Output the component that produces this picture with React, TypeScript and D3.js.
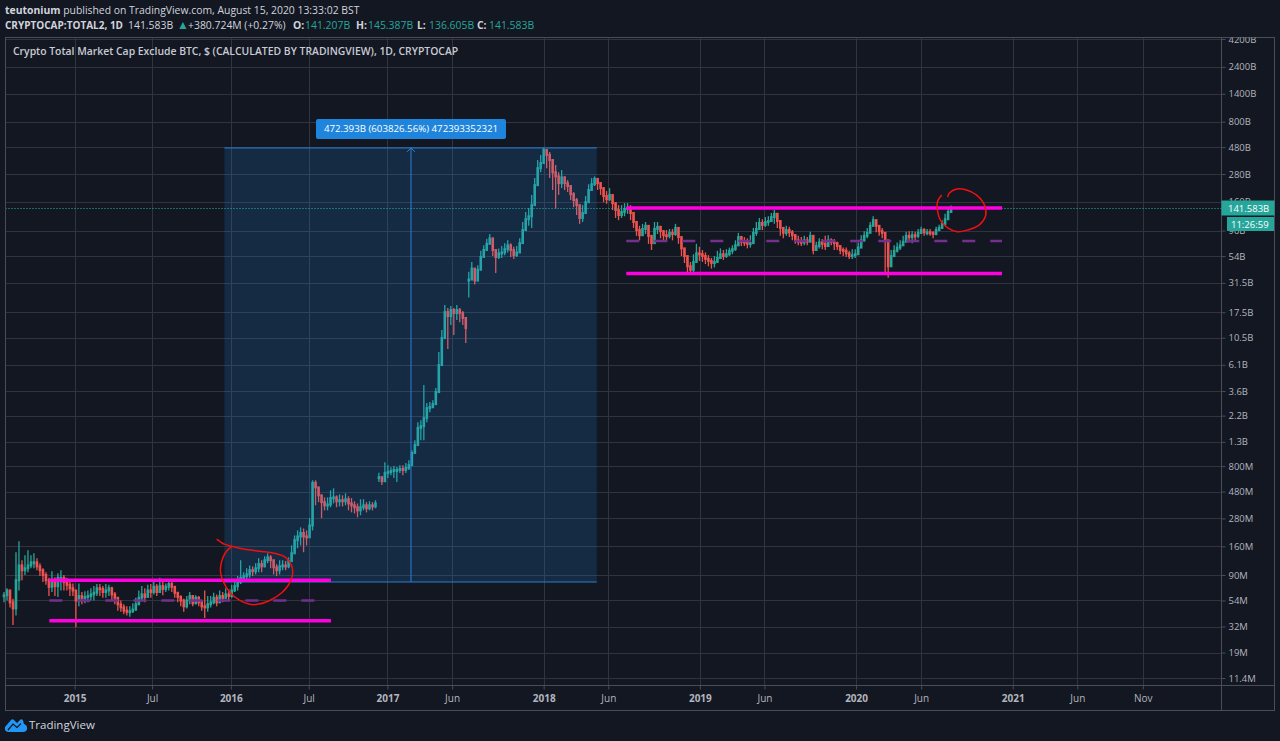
import React, { useRef, useEffect } from 'react';
import * as d3 from 'd3';

// axis labels, prices are kept in $M so one log scale covers everything
const yTickValues = [4200000, 2400000, 1400000, 800000, 480000, 280000, 160000, 90000, 54000, 31500, 17500, 10500, 6100, 3600, 2200, 1300, 800, 480, 280, 160, 90, 54, 32, 19, 11.4];
const yTickLabels = ['4200B', '2400B', '1400B', '800B', '480B', '280B', '160B', '90B', '54B', '31.5B', '17.5B', '10.5B', '6.1B', '3.6B', '2.2B', '1.3B', '800M', '480M', '280M', '160M', '90M', '54M', '32M', '19M', '11.4M'];
const xTickDates = ['2015-01-01', '2015-07-01', '2016-01-01', '2016-07-01', '2017-01-01', '2017-06-01', '2018-01-01', '2018-06-01', '2019-01-01', '2019-06-01', '2020-01-01', '2020-06-01', '2021-01-01', '2021-06-01', '2021-11-01'];
const xTickLabels = ['2015', 'Jul', '2016', 'Jul', '2017', 'Jun', '2018', 'Jun', '2019', 'Jun', '2020', 'Jun', '2021', 'Jun', 'Nov'];

// weekly bars, in $M
const seg1Start = '2014-07-20';
const seg1Close = [60, 66, 52, 46, 81, 109, 99, 103, 109, 116, 116, 107, 99, 90, 81, 71, 78, 72, 85, 85, 78, 74, 69, 66, 54, 59, 57, 58, 59, 61, 63, 69, 68, 64, 66, 69, 61, 57, 50, 47, 44, 43, 43.5, 45, 50, 57, 61, 58, 66, 64, 71, 64, 72, 68, 71, 75, 71, 63, 58, 54, 48, 54, 59, 51, 57, 52, 48, 47, 50, 52, 57, 52, 59, 57, 61, 59, 66, 72, 78, 85, 88, 91, 99, 97, 103, 112, 107, 121, 128, 121, 105, 99, 107, 109, 107, 119, 139, 181, 195, 209, 195, 192, 243, 571, 522, 445, 388, 364, 370, 421, 427, 395, 403, 395, 411, 378, 364, 350, 329, 350, 364, 343, 364, 356, 378];
const seg1High = [64, 69, 66, 56, 142, 177, 121, 134, 148, 134, 139, 126, 114, 103, 95, 85, 97, 86, 93, 99, 90, 85, 78, 76, 66, 76, 64, 65, 66, 69, 72, 75, 75, 72, 75, 74, 71, 64, 57, 54, 50, 48, 48, 51, 57, 66, 72, 69, 74, 75, 78, 75, 85, 78, 76, 80, 78, 71, 64, 60, 56, 59, 64, 60, 60, 59, 54, 66, 59, 59, 63, 61, 66, 64, 69, 68, 74, 81, 88, 121, 95, 103, 109, 107, 114, 126, 121, 131, 139, 134, 121, 112, 121, 121, 119, 128, 163, 199, 220, 234, 229, 220, 281, 601, 601, 512, 445, 427, 427, 492, 512, 445, 454, 445, 463, 436, 421, 395, 378, 411, 411, 388, 395, 388, 403];
const seg1Low = [52, 54, 47, 33, 40, 66, 81, 90, 95, 103, 103, 99, 88, 78, 74, 59, 64, 59, 58, 66, 66, 66, 59, 59, 31.5, 48, 50, 51, 52, 54, 54, 59, 59, 57, 57, 59, 54, 50, 44, 43, 41, 40, 39, 42, 44, 51, 54, 52, 59, 57, 61, 59, 64, 60, 64, 66, 64, 57, 52, 48, 43, 46, 50, 48, 50, 48, 44, 38, 43, 47, 50, 48, 54, 52, 56, 54, 57, 64, 66, 75, 78, 81, 85, 88, 91, 95, 95, 105, 114, 103, 91, 88, 91, 99, 99, 103, 121, 142, 154, 163, 142, 163, 199, 220, 364, 388, 281, 329, 329, 350, 378, 350, 356, 356, 364, 329, 316, 309, 286, 298, 329, 316, 329, 329, 343];

const seg2Start = '2016-12-12';
const seg2Close = [640, 590, 695, 710, 725, 740, 740, 755, 740, 770, 815, 1040, 1220, 1720, 1780, 2095, 2560, 2610, 2770, 3530, 6070, 10420, 17560, 16200, 18280, 17220, 18280, 17220, 15600, 12740];
const seg2High = [700, 650, 865, 815, 780, 800, 785, 815, 815, 850, 900, 1100, 1340, 1930, 2010, 4060, 2830, 2890, 3000, 3820, 7870, 12240, 20200, 19030, 19840, 19030, 20200, 19030, 17920, 15600];
const seg2Low = [580, 546, 605, 630, 665, 630, 580, 695, 665, 695, 740, 900, 1040, 1220, 1340, 1340, 1930, 2360, 2550, 2830, 3680, 6700, 10420, 8360, 13530, 11060, 14960, 14300, 13530, 9430];

// this stretch is in $B
const seg3Start = '2017-07-10';
const seg3Close = [33.7, 42, 33, 41, 53, 61, 69, 77, 61, 53, 57, 58, 62, 67, 61, 55, 58, 70, 91, 113, 120, 150, 224, 315, 349, 453, 411, 371, 290, 267, 233, 262, 233, 220, 187, 166, 150, 116, 128, 159, 203, 228, 254, 233, 211, 180, 169, 184, 156, 136, 123, 131, 139, 141.6, 128, 107, 91, 82, 93, 99, 81, 70, 93, 97, 89, 82, 81, 86, 84, 95, 79, 63, 54, 44, 41, 48, 57, 56, 54, 51, 49, 47, 48, 52, 56, 54, 56, 60, 62, 67, 79, 72, 71, 69, 70, 86, 93, 105, 101, 107, 109, 118, 126, 109, 95, 86, 91, 87, 82, 74, 72, 71, 74, 72, 81, 61, 66, 71, 69, 66, 74, 72, 70, 66, 61, 60, 57, 54, 55, 56, 64, 74, 81, 86, 99, 111, 99, 89, 86, 74, 44, 54, 60, 64, 67, 72, 81, 79, 82, 81, 86, 91, 87, 87, 86, 84, 91, 95, 103, 113, 131, 141.6];
const seg3High = [39.5, 48, 41, 45, 60, 67, 76, 84, 74, 62, 63, 66, 70, 74, 70, 65, 66, 77, 107, 131, 141.6, 184, 258, 371, 411, 473, 453, 436, 355, 335, 290, 303, 267, 248, 220, 195, 173, 136, 150, 180, 228, 258, 267, 258, 238, 207, 199, 211, 180, 156, 150, 150, 156, 156, 150, 131, 107, 99, 103, 107, 99, 81, 107, 107, 99, 91, 91, 93, 93, 103, 89, 74, 62, 52, 48, 56, 69, 65, 61, 58, 55, 52, 54, 60, 63, 61, 62, 64, 67, 74, 86, 81, 79, 77, 82, 95, 107, 116, 113, 118, 120, 128, 136, 126, 107, 95, 99, 97, 91, 84, 81, 79, 81, 79, 88, 74, 72, 77, 76, 81, 82, 77, 76, 72, 66, 64, 64, 60, 62, 62, 71, 82, 89, 95, 107, 120, 107, 99, 95, 87, 64, 61, 67, 71, 74, 81, 88, 89, 89, 88, 93, 97, 95, 93, 93, 89, 97, 101, 111, 126, 141.6, 149];
const seg3Low = [23.5, 37, 30.5, 37, 47, 54, 61, 69, 54, 38.5, 51, 52, 55, 58, 53, 51, 53, 63, 77, 95, 99, 95, 150, 248, 290, 371, 315, 258, 203, 140, 184, 211, 203, 195, 166, 144, 123, 103, 107, 136, 173, 203, 220, 203, 184, 159, 154, 163, 136, 116, 111, 116, 120, 126, 111, 95, 81, 74, 81, 84, 69, 61, 77, 84, 77, 74, 72, 77, 74, 81, 69, 54, 47, 38, 38, 39, 48, 49, 48, 46, 44, 42, 43, 47, 51, 50, 52, 54, 56, 60, 66, 66, 66, 63, 64, 74, 81, 91, 91, 97, 99, 107, 103, 95, 81, 77, 81, 79, 74, 69, 67, 66, 67, 67, 74, 56, 60, 63, 62, 61, 66, 67, 61, 61, 56, 54, 53, 51, 51, 52, 56, 64, 72, 77, 89, 99, 87, 81, 77, 39, 35, 46, 53, 58, 61, 66, 72, 71, 70, 74, 77, 84, 81, 82, 81, 77, 82, 89, 93, 99, 116, 128];

// range lines drawn on the chart: [from, to, level in $M]
const upperRanges: [string, string, number][] = [['2014-11-03', '2016-08-22', 81], ['2018-07-13', '2020-12-07', 141600]];
const lowerRanges: [string, string, number][] = [['2014-11-03', '2016-08-22', 36], ['2018-07-13', '2020-12-07', 38000]];
const midRanges: [string, string, number][] = [['2014-11-03', '2016-07-22', 54], ['2018-07-13', '2020-12-07', 73000]];

// measure tool
const measureFrom = '2015-12-17';
const measureTo = '2018-05-05';
const measureArrowAt = '2017-02-25';
const measureBottom = 78.2;
const measureTop = 472471;
const measureLabel = '472.393B (603826.56%) 472393352321';

// red pen marks: [days after 2015-01-01, $M]
const penLeft: [number, number][] = [[332, 185], [350, 167], [367, 160], [397, 151], [432, 145], [467, 139], [493, 128], [507, 109], [509, 90], [500, 74], [484, 63], [456, 54], [428, 50], [409, 50], [386, 54], [362, 64], [348, 78], [341, 95], [343, 116], [353, 142], [367, 160]];
const penRight: [number, number][] = [[2040, 176500], [2044, 191000], [2061, 207000], [2084, 203000], [2107, 184000], [2126, 150000], [2129, 123000], [2114, 101000], [2086, 91000], [2063, 88000], [2040, 95000], [2023, 111000], [2016, 136000], [2016, 160000], [2026, 184000]];

const lastPrice = 141583;
const lastPriceLabel = '141.583B';
const countdownLabel = '11:26:59';
const ohlcKeys = ['O:', 'H:', 'L:', 'C:'];
const ohlcValues = ['141.207B', '145.387B', '136.605B', '141.583B'];

const WIDTH = 1280;
const HEIGHT = 741;
const BG = '#131722';
const GRID = '#30343f';
const FRAME = '#4a4d58';
const UP = '#26a69a';
const DOWN = '#ef5350';
const FONT = '"Open Sans", sans-serif';
const DAY = 86400000;

const App: React.FC = () => {
  const svgRef = useRef<SVGSVGElement>(null);

  useEffect(() => {
    if (!svgRef.current) return;
    const svg = d3.select(svgRef.current);
    svg.selectAll('*').remove();

    const plot = { left: 5.5, right: 1221.5, top: 37.5, bottom: 685.5, frameRight: 1274.5, frameBottom: 710.5 };

    const x = d3.scaleTime()
      .domain([new Date('2014-07-20'), new Date('2022-04-28')])
      .range([4, 1219]);
    const y = d3.scaleLog()
      .domain([11.4, 4200000])
      .range([678, 39]);
    const crisp = (v: number) => Math.round(v) + 0.5;
    const base2015 = new Date('2015-01-01').getTime();

    svg.append('rect').attr('width', WIDTH).attr('height', HEIGHT).attr('fill', BG);

    svg.append('defs').append('clipPath').attr('id', 'axis-clip').append('rect')
      .attr('x', plot.right).attr('y', plot.top).attr('width', plot.frameRight - plot.right).attr('height', plot.bottom - plot.top);

    // grid
    svg.append('g').selectAll('line').data(yTickValues).enter().append('line')
      .attr('x1', plot.left).attr('x2', plot.right)
      .attr('y1', d => crisp(y(d))).attr('y2', d => crisp(y(d)))
      .attr('stroke', GRID).attr('stroke-width', 1);
    svg.append('g').selectAll('line').data(xTickDates).enter().append('line')
      .attr('x1', d => crisp(x(new Date(d)))).attr('x2', d => crisp(x(new Date(d))))
      .attr('y1', plot.top).attr('y2', plot.bottom)
      .attr('stroke', GRID).attr('stroke-width', 1);

    // candles
    const drawBars = (start: string, close: number[], high: number[], low: number[], unit: number) => {
      const t0 = new Date(start).getTime();
      const g = svg.append('g');
      close.forEach((c, i) => {
        const o = i === 0 ? c : close[i - 1];
        const px = x(new Date(t0 + i * 7 * DAY));
        const color = c >= o ? UP : DOWN;
        g.append('line')
          .attr('x1', px).attr('x2', px)
          .attr('y1', y(high[i] * unit)).attr('y2', y(low[i] * unit))
          .attr('stroke', color).attr('stroke-width', 1.3);
        const yo = y(o * unit);
        const yc = y(c * unit);
        g.append('rect')
          .attr('x', px - 1.3).attr('width', 2.6)
          .attr('y', Math.min(yo, yc) - 1).attr('height', Math.max(Math.abs(yo - yc), 1) + 2)
          .attr('fill', color);
      });
    };
    drawBars(seg1Start, seg1Close, seg1High, seg1Low, 1);
    drawBars(seg2Start, seg2Close, seg2High, seg2Low, 1);
    drawBars(seg3Start, seg3Close, seg3High, seg3Low, 1000);

    // measure box goes over the candles
    const mx0 = x(new Date(measureFrom));
    const mx1 = x(new Date(measureTo));
    const mxa = x(new Date(measureArrowAt));
    const my0 = y(measureTop);
    const my1 = y(measureBottom);
    svg.append('rect')
      .attr('x', mx0).attr('y', my0).attr('width', mx1 - mx0).attr('height', my1 - my0)
      .attr('fill', 'rgba(33,150,243,0.16)');
    svg.append('line').attr('x1', mx0).attr('x2', mx1).attr('y1', my0).attr('y2', my0).attr('stroke', '#2a7fd4').attr('stroke-width', 1);
    svg.append('line').attr('x1', mx0).attr('x2', mx1).attr('y1', my1).attr('y2', my1).attr('stroke', '#2a7fd4').attr('stroke-width', 1);
    svg.append('line').attr('x1', mxa).attr('x2', mxa).attr('y1', my0).attr('y2', my1).attr('stroke', '#2a7fd4').attr('stroke-width', 1);
    svg.append('path')
      .attr('d', `M${mxa - 4},${my0 + 4} L${mxa},${my0} L${mxa + 4},${my0 + 4}`)
      .attr('fill', 'none').attr('stroke', '#2a7fd4');
    svg.append('rect')
      .attr('x', mxa - 95).attr('y', my0 - 29).attr('width', 190).attr('height', 20).attr('rx', 2)
      .attr('fill', '#1e84dc');
    svg.append('text')
      .attr('x', mxa).attr('y', my0 - 15.5)
      .attr('text-anchor', 'middle').attr('fill', '#ffffff')
      .style('font-family', FONT).style('font-size', '9.7px')
      .text(measureLabel);

    // dotted last price line
    svg.append('line')
      .attr('x1', plot.left).attr('x2', plot.right)
      .attr('y1', crisp(y(lastPrice))).attr('y2', crisp(y(lastPrice)))
      .attr('stroke', '#2bb8aa').attr('stroke-width', 1).attr('stroke-dasharray', '1,2');

    // range lines
    const drawRanges = (rows: [string, string, number][], color: string, width: number, dash?: string) => {
      rows.forEach(([from, to, level]) => {
        svg.append('line')
          .attr('x1', x(new Date(from))).attr('x2', x(new Date(to)))
          .attr('y1', y(level)).attr('y2', y(level))
          .attr('stroke', color).attr('stroke-width', width)
          .attr('stroke-dasharray', dash ?? null);
      });
    };
    drawRanges(midRanges, '#74308f', 2.5, '13,15');
    drawRanges(upperRanges, '#ff00e0', 3.5);
    drawRanges(lowerRanges, '#ff00e0', 3.5);

    // pen marks
    const pen = d3.line<[number, number]>()
      .x(d => x(new Date(base2015 + d[0] * DAY)))
      .y(d => y(d[1]))
      .curve(d3.curveCatmullRom);
    [penLeft, penRight].forEach(points => {
      svg.append('path').attr('d', pen(points)).attr('fill', 'none').attr('stroke', '#f01010').attr('stroke-width', 1.5);
    });

    // frame
    svg.append('rect')
      .attr('x', plot.left).attr('y', plot.top)
      .attr('width', plot.frameRight - plot.left).attr('height', plot.frameBottom - plot.top)
      .attr('fill', 'none').attr('stroke', FRAME);

    // right axis, the clip sits on an outer group so it stays in page coordinates
    const yAxis = d3.axisRight(y)
      .tickValues(yTickValues)
      .tickSize(4)
      .tickPadding(3)
      .tickFormat((_, i) => yTickLabels[i]);
    const yAxisG = svg.append('g')
      .attr('clip-path', 'url(#axis-clip)')
      .append('g')
      .attr('transform', `translate(${plot.right},0)`)
      .call(yAxis as any);
    yAxisG.select('.domain').remove();
    yAxisG.selectAll('line').attr('stroke', FRAME);
    yAxisG.selectAll('text').attr('fill', '#b2b5be').style('font-family', FONT).style('font-size', '9.5px');
    svg.append('line').attr('x1', plot.right).attr('x2', plot.right).attr('y1', plot.top).attr('y2', plot.frameBottom).attr('stroke', FRAME);

    // bottom axis
    const xAxis = d3.axisBottom(x)
      .tickValues(xTickDates.map(d => new Date(d)))
      .tickSize(4)
      .tickPadding(5)
      .tickFormat((_, i) => xTickLabels[i]);
    const xAxisG = svg.append('g')
      .attr('transform', `translate(0,${plot.bottom})`)
      .call(xAxis as any);
    xAxisG.select('.domain').remove();
    xAxisG.selectAll('line').attr('stroke', FRAME);
    xAxisG.selectAll('text')
      .attr('fill', '#b2b5be')
      .style('font-family', FONT).style('font-size', '10px')
      .style('font-weight', (_, i) => /^\d/.test(xTickLabels[i]) ? 'bold' : 'normal');
    svg.append('line').attr('x1', plot.left).attr('x2', plot.frameRight).attr('y1', plot.bottom).attr('y2', plot.bottom).attr('stroke', FRAME);

    // price and countdown tags
    const py = y(lastPrice);
    svg.append('rect').attr('x', plot.right).attr('y', py - 7.5).attr('width', 53).attr('height', 15).attr('fill', UP);
    svg.append('text').attr('x', 1228).attr('y', py + 3.5).attr('fill', '#ffffff')
      .style('font-family', FONT).style('font-size', '9.5px').text(lastPriceLabel);
    svg.append('rect').attr('x', 1227).attr('y', py + 9).attr('width', 47).attr('height', 14).attr('fill', UP);
    svg.append('text').attr('x', 1231).attr('y', py + 19.5).attr('fill', '#ffffff')
      .style('font-family', FONT).style('font-size', '9.5px').text(countdownLabel);

    // header lines
    const head = svg.append('text').attr('x', 5).attr('y', 14)
      .attr('fill', '#d1d4dc').style('font-family', FONT).style('font-size', '10.4px');
    head.append('tspan').attr('font-weight', 'bold').text('teutonium');
    head.append('tspan').text(' published on TradingView.com, August 15, 2020 13:33:02 BST');

    const info = svg.append('text').attr('x', 5).attr('y', 29)
      .attr('fill', '#d1d4dc').style('font-family', FONT).style('font-size', '10.4px');
    info.append('tspan').attr('font-weight', 'bold').style('font-size', '10px').text('CRYPTOCAP:TOTAL2, 1D');
    info.append('tspan').attr('x', 128).text('141.583B');
    info.append('tspan').attr('x', 177).attr('fill', UP).style('font-size', '12px').text('▲');
    info.append('tspan').attr('x', 188).text('+380.724M (+0.27%)');
    [293, 356, 417, 477].forEach((at, i) => {
      info.append('tspan').attr('x', at).attr('font-weight', 'bold').text(ohlcKeys[i]);
      info.append('tspan').attr('x', at + 12).attr('fill', UP).text(ohlcValues[i]);
    });

    svg.append('text').attr('x', 13).attr('y', 55)
      .attr('fill', '#c8cbd3').attr('font-weight', 600)
      .style('font-family', FONT).style('font-size', '10.4px')
      .text('Crypto Total Market Cap Exclude BTC, $ (CALCULATED BY TRADINGVIEW), 1D, CRYPTOCAP');

    // logo
    svg.append('path')
      .attr('d', 'M5,727 L11,720 Q12.5,718.5 14,720 L17,723 L20,720 Q21.5,718.5 23,720.5 L24,724 Q27.5,725 27,729 Q26.5,732 23,732 L9,732 Q4,732 5,727 Z')
      .attr('fill', '#2196f3');
    svg.append('path')
      .attr('d', 'M8,730 L13,724 L17,727.5 L21,723.5')
      .attr('fill', 'none').attr('stroke', BG).attr('stroke-width', 1.2);
    svg.append('text').attr('x', 29).attr('y', 729)
      .attr('fill', '#d1d4dc').style('font-family', FONT).style('font-size', '11.5px')
      .text('TradingView');
  }, []);

  return (
    <svg
      ref={svgRef}
      width={WIDTH}
      height={HEIGHT}
      style={{ position: 'absolute', left: 0, top: 0, display: 'block' }}
    />
  );
};

export default App;
